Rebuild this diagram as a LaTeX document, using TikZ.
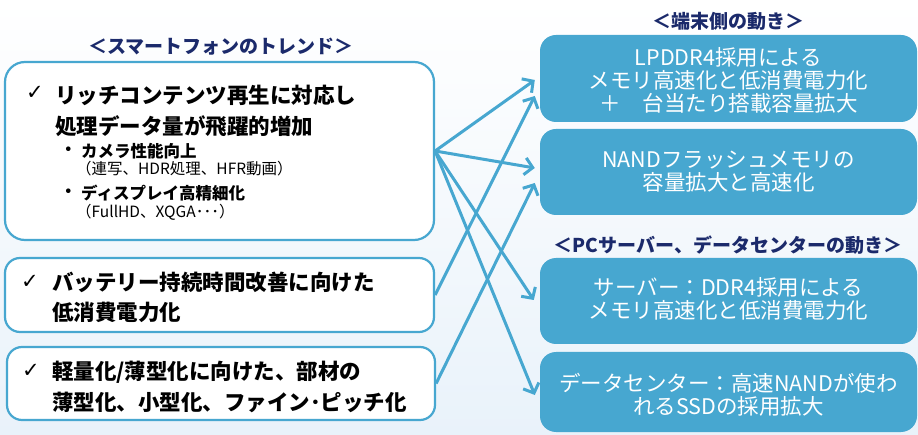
\documentclass[tikz,border=0pt]{standalone}
\usepackage{fontspec}
\setmainfont{Noto Sans CJK JP}
\newfontfamily\symfont{DejaVu Sans}
\usetikzlibrary{arrows.meta,calc}
\definecolor{mblue}{HTML}{47A7D0}
\definecolor{navy}{HTML}{1B2A6B}
\definecolor{bgb}{HTML}{E9F2FA}
\newcommand\mainsz{\fontsize{21.5pt}{30pt}\selectfont\bfseries}
\newcommand\subsz{\fontsize{16.5pt}{18pt}\selectfont\bfseries}
\newcommand\notesz{\fontsize{15.5pt}{17pt}\selectfont}
\newcommand\rsz{\fontsize{21.5pt}{23pt}\selectfont}
\newcommand\ttlsz{\fontsize{19pt}{21pt}\selectfont\bfseries}
\begin{document}
\begin{tikzpicture}[x=1pt,y=-1pt,
  lbox/.style={draw=mblue, line width=2.2pt, fill=white, rounded corners=20pt, inner sep=0pt},
  rbox/.style={fill=mblue, rounded corners=16pt, inner sep=0pt},
  ltxt/.style={anchor=west, inner sep=0pt, text=black},
  chk/.style={anchor=west, inner sep=0pt, font=\symfont\fontsize{21pt}{22pt}\selectfont},
  rtxt/.style={align=center, text=white, inner sep=0pt, font=\rsz},
  ttl/.style={text=navy, inner sep=0pt, font=\ttlsz},
  arr/.style={draw=mblue, line width=3pt, -{Straight Barb[length=8pt,width=17pt]}}
]
\path[use as bounding box] (0,0) rectangle (918,435);
\shade[top color=white, bottom color=bgb] (0,0) rectangle (918,435);

% titles
\node[ttl] (t1) at (221,47) {＜スマートフォンのトレンド＞};
\node[ttl] (t2) at (728,21) {＜端末側の動き＞};
\node[ttl] (t3) at (728,245) {＜PCサーバー、データセンターの動き＞};

% left boxes
\node[lbox, minimum width=429pt, minimum height=178pt] (L1) at (219.5,151) {};
\node[lbox, rounded corners=15pt, minimum width=429pt, minimum height=74pt] (L2) at (219.5,295) {};
\node[lbox, rounded corners=15pt, minimum width=428pt, minimum height=73pt] (L3) at (221,383.5) {};

% right boxes
\node[rbox, minimum width=377pt, minimum height=87pt] (R1) at (728.5,78.5) {};
\node[rbox, minimum width=377pt, minimum height=86pt] (R2) at (728.5,172) {};
\node[rbox, minimum width=377pt, minimum height=86pt] (R3) at (728.5,301) {};
\node[rbox, minimum width=377pt, minimum height=80pt] (R4) at (728.5,392) {};

% left box 1 text
\node[chk] (c1) at (26,93) {✓};
\node[ltxt, font=\mainsz] (a1) at (55,95) {リッチコンテンツ再生に対応し};
\node[ltxt, font=\mainsz] (a2) at (55,126) {処理データ量が飛躍的増加};
\node[ltxt, font=\subsz] (b1) at (60,151) {・};
\node[ltxt, font=\subsz] (b2) at (81,151) {カメラ性能向上};
\node[ltxt, font=\notesz] (b3) at (76,169) {（連写、HDR処理、HFR動画）};
\node[ltxt, font=\subsz] (b4) at (60,193) {・};
\node[ltxt, font=\subsz] (b5) at (81,193) {ディスプレイ高精細化};
\node[ltxt, font=\notesz] (b6) at (76,212) {（FullHD、XQGA･･･）};

% left box 2 text
\node[chk] (c2) at (21,282) {✓};
\node[ltxt, font=\mainsz] (d1) at (52,282) {バッテリー持続時間改善に向けた};
\node[ltxt, font=\mainsz] (d2) at (52,312) {低消費電力化};

% left box 3 text
\node[chk] (c3) at (22,371) {✓};
\node[ltxt, font=\mainsz] (e1) at (52,372) {軽量化/薄型化に向けた、部材の};
\node[ltxt, font=\mainsz] (e2) at (52,402) {薄型化、小型化、ファイン･ピッチ化};

% right texts
\node[rtxt] (r1) at (728.5,80) {LPDDR4採用による\\メモリ高速化と低消費電力化\\＋　台当たり搭載容量拡大};
\node[rtxt] (r2) at (728.5,172) {NANDフラッシュメモリの\\容量拡大と高速化};
\node[rtxt] (r3) at (728.5,299) {サーバー：DDR4採用による\\メモリ高速化と低消費電力化};
\node[rtxt] (r4) at (728.5,395) {データセンター：高速NANDが使わ\\れるSSDの採用拡大};

% arrows
\draw[arr] (L1.east) -- ($(R1.west)+(-5,1.5)$);
\draw[arr] (L2.east) -- ($(R1.west)+(-5,17.5)$);
\draw[arr] (L1.east) -- ($(R2.west)+(-5,-4)$);
\draw[arr] (L3.east) -- ($(R2.west)+(-5,11)$);
\draw[arr] (L1.east) -- ($(R3.west)+(-6,-1)$);
\draw[arr] (L1.east) -- ($(R4.west)+(-5,3)$);
\end{tikzpicture}
\end{document}
